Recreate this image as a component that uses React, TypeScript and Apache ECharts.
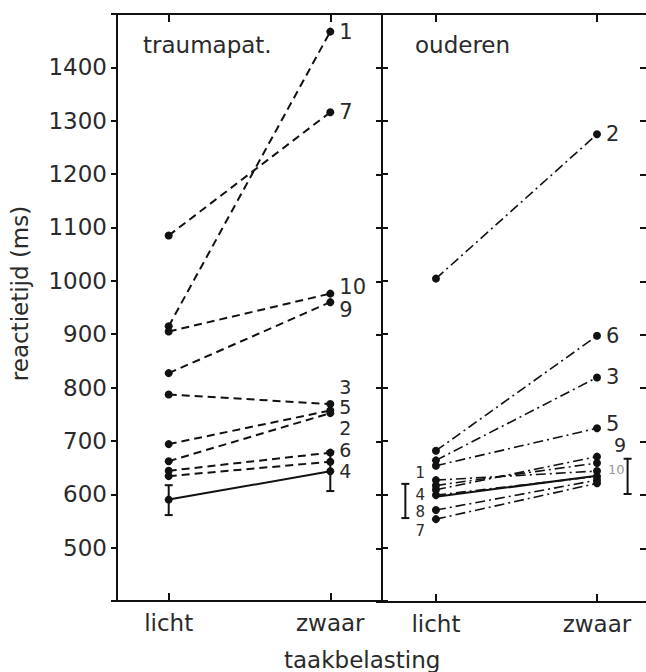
import React, { useEffect, useRef } from "react";
import * as echarts from "echarts";

// ---- data ----
const categories = ["licht", "zwaar"];
const yTicks = [500, 600, 700, 800, 900, 1000, 1100, 1200, 1300, 1400];

// traumapatiënten: [licht, zwaar]
const traumaIds = ["1", "7", "10", "9", "3", "5", "2", "6", "4"];
const traumaLicht = [915, 1085, 905, 827, 787, 694, 662, 644, 634];
const traumaZwaar = [1467, 1316, 976, 960, 769, 757, 752, 678, 661];
const traumaMean = [590, 643];
const traumaErrLow = [561, 606];
const traumaErrHigh = [617, 680];

// ouderen: [licht, zwaar]
const oudIds = ["1", "2", "3", "4", "5", "6", "7", "8", "9", "10"];
const oudLicht = [628, 1005, 665, 600, 655, 683, 555, 572, 610, 618];
const oudZwaar = [645, 1275, 820, 635, 725, 898, 622, 628, 672, 660];
const oudMean = [597, 636];
const oudErrX = [-0.19, 1.19];
const oudErrLow = [557, 602];
const oudErrHigh = [621, 668];

// ---- label placement (style) ----
const traumaLabelCfg: Record<string, { off: [number, number]; size: number }> = {
  "1": { off: [0, 0], size: 21 },
  "7": { off: [0, 0], size: 21 },
  "10": { off: [0, -7], size: 21 },
  "9": { off: [0, 8], size: 21 },
  "3": { off: [0, -17], size: 19 },
  "5": { off: [0, -3], size: 19 },
  "2": { off: [0, 15], size: 19 },
  "6": { off: [0, -3], size: 19 },
  "4": { off: [0, 9], size: 19 },
};
const oudLabelCfg: Record<string, { end: number; pos: string; off: [number, number]; size: number; color?: string }> = {
  "1": { end: 0, pos: "left", off: [-2, -7], size: 15 },
  "4": { end: 0, pos: "left", off: [-2, 0], size: 15 },
  "8": { end: 0, pos: "left", off: [-2, 2], size: 15 },
  "7": { end: 0, pos: "left", off: [-2, 12], size: 15 },
  "2": { end: 1, pos: "right", off: [0, 0], size: 21 },
  "6": { end: 1, pos: "right", off: [0, 0], size: 21 },
  "3": { end: 1, pos: "right", off: [0, 0], size: 21 },
  "5": { end: 1, pos: "right", off: [0, -4], size: 21 },
  "9": { end: 1, pos: "right", off: [8, -12], size: 19 },
  "10": { end: 1, pos: "right", off: [2, 6], size: 13, color: "#999" },
};

const FONT = "DejaVu Sans";
const INK = "#111";
const TXT = "#2a2a2a";

export default function App() {
  const ref = useRef<HTMLDivElement>(null);
  useEffect(() => {
    if (!ref.current) return;
    const chart = echarts.init(ref.current, null, { renderer: "svg" });

    const xCommon = (grid: number, pos: "bottom" | "top", min: number, max: number, labels: boolean) => ({
      type: "value",
      gridIndex: grid,
      position: pos,
      min,
      max,
      axisLine: { show: true, onZero: false, lineStyle: { color: INK, width: 2 } },
      axisTick: { show: true, inside: true, length: 8, customValues: [0, 1], lineStyle: { color: INK, width: 2 } },
      axisLabel: {
        show: labels,
        customValues: [0, 1],
        formatter: (v: number) => categories[Math.round(v)] ?? "",
        fontFamily: FONT,
        fontSize: 23,
        color: TXT,
        margin: 10,
      },
      splitLine: { show: false },
    });

    const yCommon = (grid: number, pos: "left" | "right", labels: boolean, line: boolean, name?: string) => ({
      type: "value",
      gridIndex: grid,
      position: pos,
      min: 400,
      max: 1500,
      interval: 100,
      name,
      nameLocation: "middle",
      nameGap: 86,
      nameTextStyle: { fontFamily: FONT, fontSize: 23, color: TXT, padding: [0, 0, 0, 28] },
      axisLine: { show: line, onZero: false, lineStyle: { color: INK, width: 2 } },
      axisTick: { show: true, inside: false, length: 6, lineStyle: { color: INK, width: 2 } },
      axisLabel: {
        show: labels,
        formatter: (v: number) => (yTicks.includes(v) ? String(v) : ""),
        fontFamily: FONT,
        fontSize: 23,
        color: TXT,
        margin: 10,
      },
      splitLine: { show: false },
    });

    const errSeries = (xIdx: number, yIdx: number, xs: number[], lo: number[], hi: number[]) => ({
      type: "custom",
      xAxisIndex: xIdx,
      yAxisIndex: yIdx,
      z: 5,
      data: xs.map((x, i) => [x, lo[i], hi[i]]),
      renderItem: (_p: any, api: any) => {
        const a = api.coord([api.value(0), api.value(1)]);
        const b = api.coord([api.value(0), api.value(2)]);
        const st = { stroke: INK, lineWidth: 2 };
        return {
          type: "group",
          children: [
            { type: "line", shape: { x1: a[0], y1: a[1], x2: b[0], y2: b[1] }, style: st },
            { type: "line", shape: { x1: a[0] - 4, y1: a[1], x2: a[0] + 4, y2: a[1] }, style: st },
            { type: "line", shape: { x1: b[0] - 4, y1: b[1], x2: b[0] + 4, y2: b[1] }, style: st },
          ],
        };
      },
    });

    const series: any[] = [];
    traumaIds.forEach((id, i) => {
      const cfg = traumaLabelCfg[id];
      series.push({
        type: "line",
        name: "t" + id,
        xAxisIndex: 0,
        yAxisIndex: 0,
        symbol: "circle",
        symbolSize: 8,
        itemStyle: { color: INK },
        lineStyle: { color: INK, width: 2, type: [8, 5] },
        data: [
          [0, traumaLicht[i]],
          {
            value: [1, traumaZwaar[i]],
            label: {
              show: true,
              position: "right",
              distance: 5,
              offset: cfg.off,
              formatter: id,
              fontFamily: FONT,
              fontSize: cfg.size,
              lineHeight: cfg.size,
              color: TXT,
            },
          },
        ],
      });
    });
    series.push({
      type: "line",
      name: "tmean",
      xAxisIndex: 0,
      yAxisIndex: 0,
      symbol: "circle",
      symbolSize: 8,
      itemStyle: { color: INK },
      lineStyle: { color: INK, width: 2 },
      data: [[0, traumaMean[0]], [1, traumaMean[1]]],
    });
    series.push(errSeries(0, 0, [0, 1], traumaErrLow, traumaErrHigh));

    oudIds.forEach((id, i) => {
      const cfg = oudLabelCfg[id];
      const lab = {
        show: true,
        position: cfg.pos,
        distance: 5,
        offset: cfg.off,
        formatter: id,
        fontFamily: FONT,
        fontSize: cfg.size,
        lineHeight: cfg.size,
        color: cfg.color ?? TXT,
      };
      const p0: any = { value: [0, oudLicht[i]] };
      const p1: any = { value: [1, oudZwaar[i]] };
      if (cfg.end === 0) p0.label = lab;
      else p1.label = lab;
      series.push({
        type: "line",
        name: "o" + id,
        xAxisIndex: 2,
        yAxisIndex: 2,
        symbol: "circle",
        symbolSize: 8,
        itemStyle: { color: INK },
        lineStyle: { color: INK, width: 1.6, type: [10, 4, 2, 4] },
        data: [p0, p1],
      });
    });
    series.push({
      type: "line",
      name: "omean",
      xAxisIndex: 2,
      yAxisIndex: 2,
      symbol: "none",
      lineStyle: { color: INK, width: 2 },
      data: [[0, oudMean[0]], [1, oudMean[1]]],
    });
    series.push(errSeries(2, 2, oudErrX, oudErrLow, oudErrHigh));

    chart.setOption({
      animation: false,
      backgroundColor: "#fff",
      grid: [
        { left: 117, top: 14, width: 265, height: 587 },
        { left: 382, top: 14, width: 258, height: 588 },
      ],
      xAxis: [
        xCommon(0, "bottom", -0.32, 1.32, true),
        xCommon(0, "top", -0.32, 1.32, false),
        xCommon(1, "bottom", -0.335, 1.267, true),
        xCommon(1, "top", -0.335, 1.267, false),
      ],
      yAxis: [
        yCommon(0, "left", true, true, "reactietijd (ms)"),
        yCommon(0, "right", false, true),
        yCommon(1, "left", false, true),
        yCommon(1, "right", false, false),
      ],
      title: [
        { text: "traumapat.", left: 138, top: 28, textStyle: { fontFamily: FONT, fontSize: 23, fontWeight: "normal", color: TXT } },
        { text: "ouderen", left: 410, top: 28, textStyle: { fontFamily: FONT, fontSize: 23, fontWeight: "normal", color: TXT } },
      ],
      graphic: [
        {
          type: "text",
          left: 284,
          top: 648,
          style: { text: "taakbelasting", fontFamily: FONT, fontSize: 23, fill: TXT },
        },
      ],
      series,
    });
    return () => chart.dispose();
  }, []);
  return <div ref={ref} style={{ width: 646, height: 672, position: "absolute", left: 0, top: 0 }} />;
}
